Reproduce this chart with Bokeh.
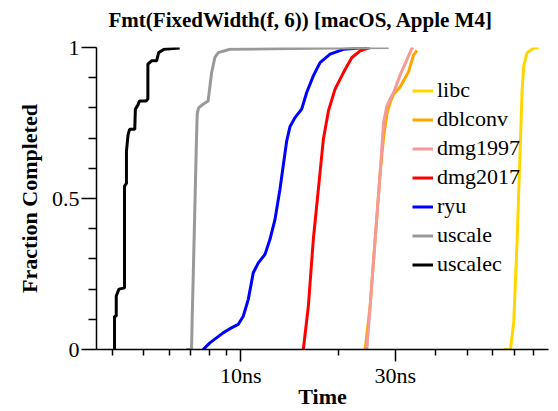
from bokeh.plotting import figure
from bokeh.models import (Range1d, FixedTicker, CustomJSTickFormatter,
                          Legend, LegendItem, Title)
from bokeh.embed import file_html
from bokeh.resources import INLINE

# Cumulative completion curves: time per call (ns) vs. fraction completed
libc_t = [64.9, 68.06, 69.66, 71.38, 73.08, 73.96, 74.82, 76.6, 80.35, 83.24]
libc_f = [0.0, 0.0, 0.09, 0.365, 0.696, 0.862, 0.94, 0.983, 0.998, 1.0]

dblconv_t = [24.21, 25.08, 25.99, 26.94, 27.58, 28.26, 28.93, 29.62, 31.07, 32.96, 34.16, 34.99]
dblconv_f = [0.0, 0.144, 0.365, 0.586, 0.70, 0.78, 0.82, 0.845, 0.87, 0.92, 0.975, 0.99]

dmg1997_t = [24.5, 25.08, 25.99, 26.94, 27.58, 28.26, 28.93, 29.62, 31.07, 32.58, 33.77, 34.16]
dmg1997_f = [0.0, 0.144, 0.365, 0.586, 0.75, 0.807, 0.83, 0.85, 0.91, 0.96, 0.998, 1.0]

dmg2017_t = [15.59, 16.16, 16.74, 17.35, 17.98, 18.64, 19.54, 20.74, 22.02, 23.36, 25.08]
dmg2017_f = [0.0, 0.144, 0.365, 0.53, 0.696, 0.79, 0.862, 0.917, 0.967, 0.989, 1.0]

ryu_t = [7.64, 8.02, 8.81, 9.25, 9.81, 10.17, 10.54, 10.92, 11.32, 11.87, 12.30,
         12.74, 13.20, 13.52, 13.85, 14.18, 14.70, 15.41, 15.97, 16.74, 17.56,
         18.86, 20.74, 24.5]
ryu_f = [0.0, 0.022, 0.055, 0.069, 0.083, 0.11, 0.166, 0.254, 0.287, 0.315, 0.365,
         0.43, 0.53, 0.61, 0.69, 0.738, 0.768, 0.796, 0.851, 0.906, 0.95,
         0.978, 0.994, 1.0]

uscale_t = [6.79, 7.04, 7.07, 7.12, 7.20, 7.29, 7.33, 7.40, 7.64, 7.92, 8.12,
            8.31, 8.51, 9.25, 14.18, 28.6]
uscale_f = [0.0, 0.0, 0.1, 0.232, 0.45, 0.696, 0.78, 0.80, 0.812, 0.823, 0.917,
            0.967, 0.983, 0.994, 0.997, 1.0]

uscalec_t = [4.07, 4.07, 4.12, 4.12, 4.20, 4.37, 4.37, 4.43, 4.43, 4.48, 4.53,
             4.70, 4.72, 4.81, 4.86, 5.10, 5.16, 5.16, 5.30, 5.49, 5.57, 5.79, 6.47]
uscalec_f = [0.0, 0.11, 0.11, 0.177, 0.20, 0.204, 0.541, 0.55, 0.657, 0.71, 0.729,
             0.729, 0.796, 0.81, 0.823, 0.823, 0.83, 0.945, 0.956, 0.956, 0.983, 0.994, 0.998]

series = [
    ("libc", libc_t, libc_f, "#FFD700"),
    ("dblconv", dblconv_t, dblconv_f, "#FFA500"),
    ("dmg1997", dmg1997_t, dmg1997_f, "#F49A98"),
    ("dmg2017", dmg2017_t, dmg2017_f, "#FF0000"),
    ("ryu", ryu_t, ryu_f, "#0000FF"),
    ("uscale", uscale_t, uscale_f, "#999999"),
    ("uscalec", uscalec_t, uscalec_f, "#000000"),
]

x_major = [10, 30]
x_minor = [4, 5, 6, 7, 8, 9, 20, 40, 50, 60, 70, 80]
y_major = [0, 0.5, 1]
y_minor = [0.1, 0.2, 0.3, 0.4, 0.6, 0.7, 0.8, 0.9]

TITLE = "Fmt(FixedWidth(f, 6)) [macOS, Apple M4]"
FONT = "Liberation Serif"

p = figure(width=558, height=411, x_axis_type="log",
           x_range=Range1d(3.58, 89.2), y_range=Range1d(0, 1),
           output_backend="svg", toolbar_location=None,
           min_border_left=96, min_border_right=10,
           min_border_top=47, min_border_bottom=61)
p.title.visible = False

# heading with extra room underneath so it sits well above the frame
p.add_layout(Title(text=TITLE, align="left", offset=12, standoff=0,
                   padding=dict(left=0, right=0, top=0, bottom=16),
                   text_font=FONT, text_font_size="21px",
                   text_font_style="bold", text_color="black"), "above")

p.outline_line_color = None
p.xgrid.visible = False
p.ygrid.visible = False
p.background_fill_color = "white"
p.border_fill_color = "white"

items = []
for name, t, f, color in series:
    r = p.line(t, f, line_color=color, line_width=3)
    items.append(LegendItem(label=name, renderers=[r]))

xa = p.xaxis[0]
xa.ticker = FixedTicker(ticks=x_major, minor_ticks=x_minor)
xa.formatter = CustomJSTickFormatter(code="return tick + 'ns';")
xa.axis_label = "Time"

ya = p.yaxis[0]
ya.ticker = FixedTicker(ticks=y_major, minor_ticks=y_minor)
ya.formatter = CustomJSTickFormatter(code="return tick.toString();")
ya.axis_label = "Fraction Completed"

for ax, mj, mn in ((xa, 12, 6), (ya, 15, 8)):
    ax.axis_line_width = 1.5
    ax.axis_line_color = "black"
    ax.major_tick_line_width = 1.5
    ax.minor_tick_line_width = 1.5
    ax.major_tick_line_color = "black"
    ax.minor_tick_line_color = "black"
    ax.major_tick_in = 0
    ax.minor_tick_in = 0
    ax.major_tick_out = mj
    ax.minor_tick_out = mn
    ax.major_label_text_font = FONT
    ax.major_label_text_font_size = "22px"
    ax.major_label_text_color = "black"
    ax.axis_label_text_font = FONT
    ax.axis_label_text_font_size = "22px"
    ax.axis_label_text_font_style = "bold"
    ax.axis_label_text_color = "black"

xa.major_label_standoff = 1
xa.axis_label_standoff = -7
ya.major_label_standoff = 2
ya.axis_label_standoff = 7

legend = Legend(items=items, location=(316, 72),
                label_text_font=FONT, label_text_font_size="22px",
                label_text_color="black",
                glyph_width=21, glyph_height=21, label_height=21,
                spacing=3, padding=0, margin=0, label_standoff=4,
                border_line_alpha=0, background_fill_alpha=0)
p.add_layout(legend)

open("out.html", "w").write(file_html(p, INLINE))
